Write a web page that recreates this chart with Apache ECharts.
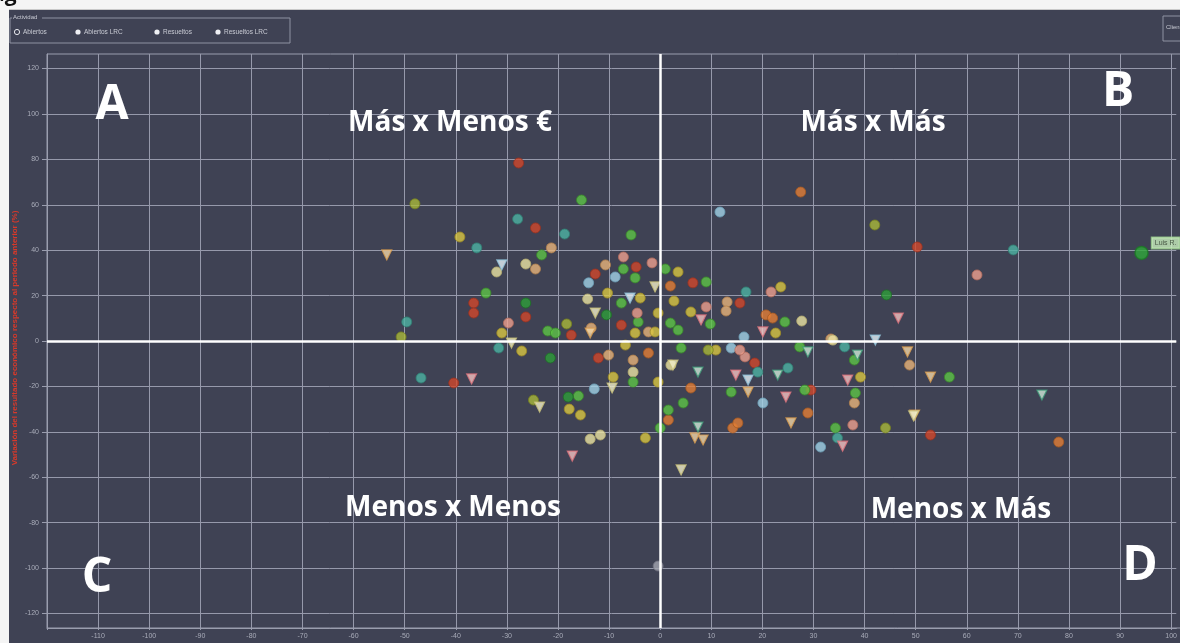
<!DOCTYPE html>
<html><head><meta charset="utf-8">
<script src="https://cdn.jsdelivr.net/npm/echarts@6/dist/echarts.min.js"></script>
<style>html,body{margin:0;padding:0;background:#fff}#c{width:1180px;height:643px}</style>
</head><body><div id="c"></div>
<script>
// ---- tick labels ----
const xTicks = [-110,-100,-90,-80,-70,-60,-50,-40,-30,-20,-10,0,10,20,30,40,50,60,70,80,90,100];
const xGrid = [-120,-110,-100,-90,-80,-70,-60,-50,-40,-30,-20,-10,0,10,20,30,40,50,60,70,80,90,100];
const yTicks = [-120,-100,-80,-60,-40,-20,0,20,40,60,80,100,120];
const legendNames = ['Abiertos','Abiertos LRC','Resueltos','Resueltos LRC'];
const quadrantLetters = ['A','B','C','D'];
const quadrantNames = ['Más x Menos €','Más x Más','Menos x Menos','Menos x Más'];

// ---- data (x, y) grouped by colour ----
const redPts = [[-27.7,78.4],[-24.4,49.8],[-4.7,32.6],[-12.7,29.5],[-36.5,16.7],[-36.5,12.3],[-26.3,10.6],[-7.6,7.0],[-12.1,-7.5],[-40.4,-18.5],[6.4,25.6],[15.6,16.7],[18.5,-9.7],[50.3,41.4],[52.9,-41.4],[29.5,-21.6],[-17.4,2.6]];
const orangePts = [[2.0,24.2],[-2.3,-5.3],[20.7,11.5],[22.0,10.1],[6.0,-20.7],[1.6,-34.8],[14.2,-38.3],[15.2,-36.1],[28.9,-31.7],[78.0,-44.5],[27.5,65.6]];
const tanPts = [[-21.3,41.0],[-10.7,33.5],[-24.4,31.7],[13.1,17.2],[12.9,13.2],[-13.5,5.7],[-2.3,4.0],[-10.1,-6.2],[-5.3,-8.4],[38.0,-27.3],[48.8,-10.6],[33.4,0.9]];
const yellowPts = [[-39.2,45.8],[-10.3,21.1],[-3.9,18.9],[3.5,30.4],[23.6,23.8],[2.7,17.6],[6.0,12.8],[-0.4,12.3],[-31.0,3.5],[-4.9,3.5],[-1.0,4.0],[-27.1,-4.4],[-6.8,-1.8],[-9.2,-15.9],[-17.8,-30.0],[-15.6,-32.6],[-2.9,-42.7],[22.6,3.5],[10.9,-4.0],[39.2,-15.9],[-0.4,-18.1]];
const olivePts = [[-48.0,60.4],[42.0,51.1],[-50.7,1.8],[-24.8,-26.0],[44.1,-38.3],[9.4,-4.0],[-18.3,7.5]];
const palePts = [[-32.0,30.4],[-14.2,18.5],[-26.3,33.9],[27.7,8.8],[-5.3,-13.7],[-13.7,-43.2],[-11.7,-41.4],[2.1,-10.6],[33.8,0.4]];
const greenPts = [[-15.4,62.1],[-5.7,46.7],[-23.2,37.9],[-7.2,31.7],[-4.9,27.8],[1.0,31.7],[-34.1,21.1],[-7.6,16.7],[-4.3,8.4],[-22.0,4.4],[-20.5,3.5],[2.0,7.9],[9.8,7.5],[3.5,4.8],[9.0,26.0],[24.4,8.4],[4.1,-3.1],[27.3,-2.6],[38.0,-8.4],[56.6,-15.9],[-5.3,-18.1],[-16.0,-24.2],[4.5,-27.3],[1.6,-30.4],[13.9,-22.5],[38.2,-22.9],[34.3,-38.3],[0.0,-38.3],[28.3,-21.6]];
const darkGreenPts = [[-26.3,16.7],[-10.5,11.5],[-21.5,-7.5],[-18.0,-24.7],[44.3,20.3]];
const tealPts = [[-27.9,53.7],[-18.7,47.1],[-35.9,41.0],[-49.6,8.4],[-31.6,-3.1],[-46.8,-16.3],[16.8,21.6],[69.1,40.1],[19.1,-13.7],[25.0,-11.9],[36.1,-2.6],[34.7,-42.7]];
const bluePts = [[11.7,56.8],[-8.8,28.2],[-14.0,25.6],[-12.9,-21.1],[13.9,-3.1],[20.1,-27.3],[31.4,-46.7],[16.4,1.8]];
const pinkPts = [[-7.2,37.0],[-1.6,34.4],[-4.5,12.3],[-29.7,7.9],[21.7,21.6],[9.0,15.0],[16.6,-7.0],[62.0,29.1],[37.7,-37.0],[15.6,-4.0]];
const greyPts = [[-0.4,-99.1]];
const tanTri = [[-53.5,37.9],[6.8,-42.7],[8.4,-43.6],[25.6,-36.1],[48.4,-4.8],[52.9,-15.9],[49.8,-32.6],[-13.7,3.5],[17.2,-22.5]];
const pinkTri = [[-36.9,-16.7],[-17.2,-50.7],[8.0,9.3],[20.1,4.0],[14.8,-15.0],[36.7,-17.2],[24.6,-24.7],[46.6,10.1],[35.7,-46.3]];
const blueTri = [[-31.0,33.5],[-5.9,18.9],[17.2,-17.2],[42.1,0.4]];
const paleTri = [[-12.7,12.3],[-1.0,23.8],[-29.1,-0.9],[-23.6,-29.1],[-9.4,-20.7],[2.5,-10.6],[4.1,-56.8],[49.6,-33.0]];
const tealTri = [[7.4,-13.7],[23.0,-15.0],[7.4,-37.9],[28.9,-4.8],[38.6,-6.2],[74.7,-23.8]];
const highlightPt = [[94.2,38.8]];
const highlightName = 'Luis R.';

// ---- styles ----
const BG = '#3f4254';
const GRIDC = '#9699ab';
const circleGroups = [
  [redPts,'#d2472a','#9a3220'],[orangePts,'#e47e36','#a85a22'],[tanPts,'#e9b47a','#b07f4c'],
  [yellowPts,'#dac742','#9c8a25'],[olivePts,'#a9b83a','#76801f'],[palePts,'#ebe3a2','#b5ad70'],
  [greenPts,'#5ec446','#3a8a2a'],[darkGreenPts,'#2e9e38','#1d6e25'],[tealPts,'#4db3a3','#2f7f73'],
  [bluePts,'#a2d2e6','#6c9fb6'],[pinkPts,'#eda08e','#b06a5c'],[greyPts,'#a2a4af','#6f7180']
];
const triGroups = [
  [tanTri,'#f1d6a8','#d69a4e'],[pinkTri,'#f2c2c0','#d9707a'],[blueTri,'#e4f0f6','#8fc2d8'],
  [paleTri,'#f1edc8','#c9c27a'],[tealTri,'#cfe8d8','#3f9a78']
];
const series = [];
circleGroups.forEach(([d,c,b]) => series.push({type:'scatter', data:d, symbol:'circle', symbolSize:10,
  itemStyle:{color:c, borderColor:b, borderWidth:1}, z:3}));
triGroups.forEach(([d,c,b]) => series.push({type:'scatter', data:d, symbol:'triangle', symbolRotate:180, symbolSize:10,
  itemStyle:{color:c, borderColor:b, borderWidth:1.2}, z:4}));
series.push({type:'scatter', data:highlightPt, symbol:'circle', symbolSize:13, z:6,
  itemStyle:{color:'#2fa83a', borderColor:'#1a7a24', borderWidth:1.5},
  label:{show:true, position:'right', distance:3, offset:[0,-10], formatter:highlightName, fontSize:7, color:'#2d3a2a',
    backgroundColor:'#c9efbd', borderColor:'#9fd58f', borderWidth:1, padding:[2,3]}});
series.push({type:'scatter', data:[], markLine:{silent:true, symbol:'none', animation:false,
  lineStyle:{color:'#ffffff', width:2.5, type:'solid'}, label:{show:false},
  data:[{xAxis:0},{yAxis:0}]}, z:2});

const legendChildren = [
  {type:'rect', shape:{x:0,y:0,width:280,height:25}, style:{fill:'none', stroke:'#8f92a2', lineWidth:1}},
  {type:'rect', shape:{x:2,y:-4,width:30,height:8}, style:{fill:BG}},
  {type:'text', x:3, y:-4, style:{text:'Actividad', fill:'#c9cbd4', font:'6px "Liberation Sans"'}}
];
const legX = [7, 68, 147, 208];
legendNames.forEach((n,i) => {
  legendChildren.push({type:'circle', shape:{cx:legX[i], cy:14, r:2.6},
    style: i===0 ? {fill:'none', stroke:'#e6e7ec', lineWidth:1} : {fill:'#eeeff3'}});
  legendChildren.push({type:'text', x:legX[i]+6, y:10.5, style:{text:n, fill:'#c9cbd4', font:'6.5px "Liberation Sans"'}});
});

const qFont = 'bold 28px "Open Sans"';
const lFont = 'bold 48px "Open Sans"';
const graphic = [
  {type:'rect', shape:{x:0,y:0,width:1180,height:10}, style:{fill:'#f4f4f4'}, z:100},
  {type:'rect', shape:{x:0,y:9,width:1180,height:1}, style:{fill:'#c9c9c9'}, z:100},
  {type:'rect', shape:{x:0,y:0,width:9,height:643}, style:{fill:'#f4f4f4'}, z:100},
  {type:'text', x:-30, y:-15, z:101, style:{text:'Diag', fill:'#111', font:'bold 21px "Open Sans"'}},
  {type:'group', x:10, y:18, children:legendChildren, z:50},
  {type:'rect', shape:{x:1163,y:16,width:30,height:25}, style:{fill:'none', stroke:'#8f92a2', lineWidth:1}, z:50},
  {type:'text', x:1166, y:24, style:{text:'Cliente', fill:'#c9cbd4', font:'6px "Liberation Sans"'}, z:50},
  {type:'rect', shape:{x:47,y:54,width:1140,height:574}, style:{fill:'none', stroke:'#9a9dae', lineWidth:1}, z:1},
  {type:'text', x:15, y:338, rotation:Math.PI/2, style:{text:'Variación del resultado económico respecto al periodo anterior (%)', fill:'#d8392a', font:'bold 8px "Liberation Sans"', align:'center', verticalAlign:'middle'}, z:50},
  {type:'text', x:112, y:105, style:{text:quadrantLetters[0], fill:'#fff', font:lFont, align:'center', verticalAlign:'middle'}, z:20},
  {type:'text', x:1118, y:92, style:{text:quadrantLetters[1], fill:'#fff', font:lFont, align:'center', verticalAlign:'middle'}, z:20},
  {type:'text', x:97, y:578, style:{text:quadrantLetters[2], fill:'#fff', font:lFont, align:'center', verticalAlign:'middle'}, z:20},
  {type:'text', x:1140, y:566, style:{text:quadrantLetters[3], fill:'#fff', font:lFont, align:'center', verticalAlign:'middle'}, z:20},
  {type:'text', x:450, y:123, style:{text:quadrantNames[0], fill:'#fff', font:qFont, align:'center', verticalAlign:'middle'}, z:20},
  {type:'text', x:873, y:123, style:{text:quadrantNames[1], fill:'#fff', font:qFont, align:'center', verticalAlign:'middle'}, z:20},
  {type:'text', x:453, y:508, style:{text:quadrantNames[2], fill:'#fff', font:qFont, align:'center', verticalAlign:'middle'}, z:20},
  {type:'text', x:961, y:510, style:{text:quadrantNames[3], fill:'#fff', font:qFont, align:'center', verticalAlign:'middle'}, z:20}
];

const chart = echarts.init(document.getElementById('c'), null, {renderer:'canvas'});
chart.setOption({
  animation:false,
  backgroundColor:BG,
  grid:{left:47, right:0, top:54, bottom:15, containLabel:false},
  xAxis:{type:'value', min:-120, max:101,
    axisLine:{show:true, onZero:false, lineStyle:{color:'#9a9dae'}},
    axisTick:{show:true, length:2, customValues:xGrid, lineStyle:{color:'#9a9dae'}},
    axisLabel:{customValues:xTicks, color:'#a9acb9', fontSize:7, margin:5, fontFamily:'Liberation Sans'},
    splitLine:{show:true, lineStyle:{color:GRIDC, width:1}}},
  yAxis:{type:'value', min:-126.4, max:126.4,
    axisLine:{show:true, onZero:false, lineStyle:{color:'#9a9dae'}},
    axisTick:{show:true, length:5, customValues:yTicks, lineStyle:{color:'#9a9dae'}},
    axisLabel:{customValues:yTicks, color:'#a9acb9', fontSize:7, margin:8, fontFamily:'Liberation Sans'},
    splitLine:{show:true, lineStyle:{color:GRIDC, width:1}}},
  series:series,
  graphic:graphic
});
</script></body></html>
